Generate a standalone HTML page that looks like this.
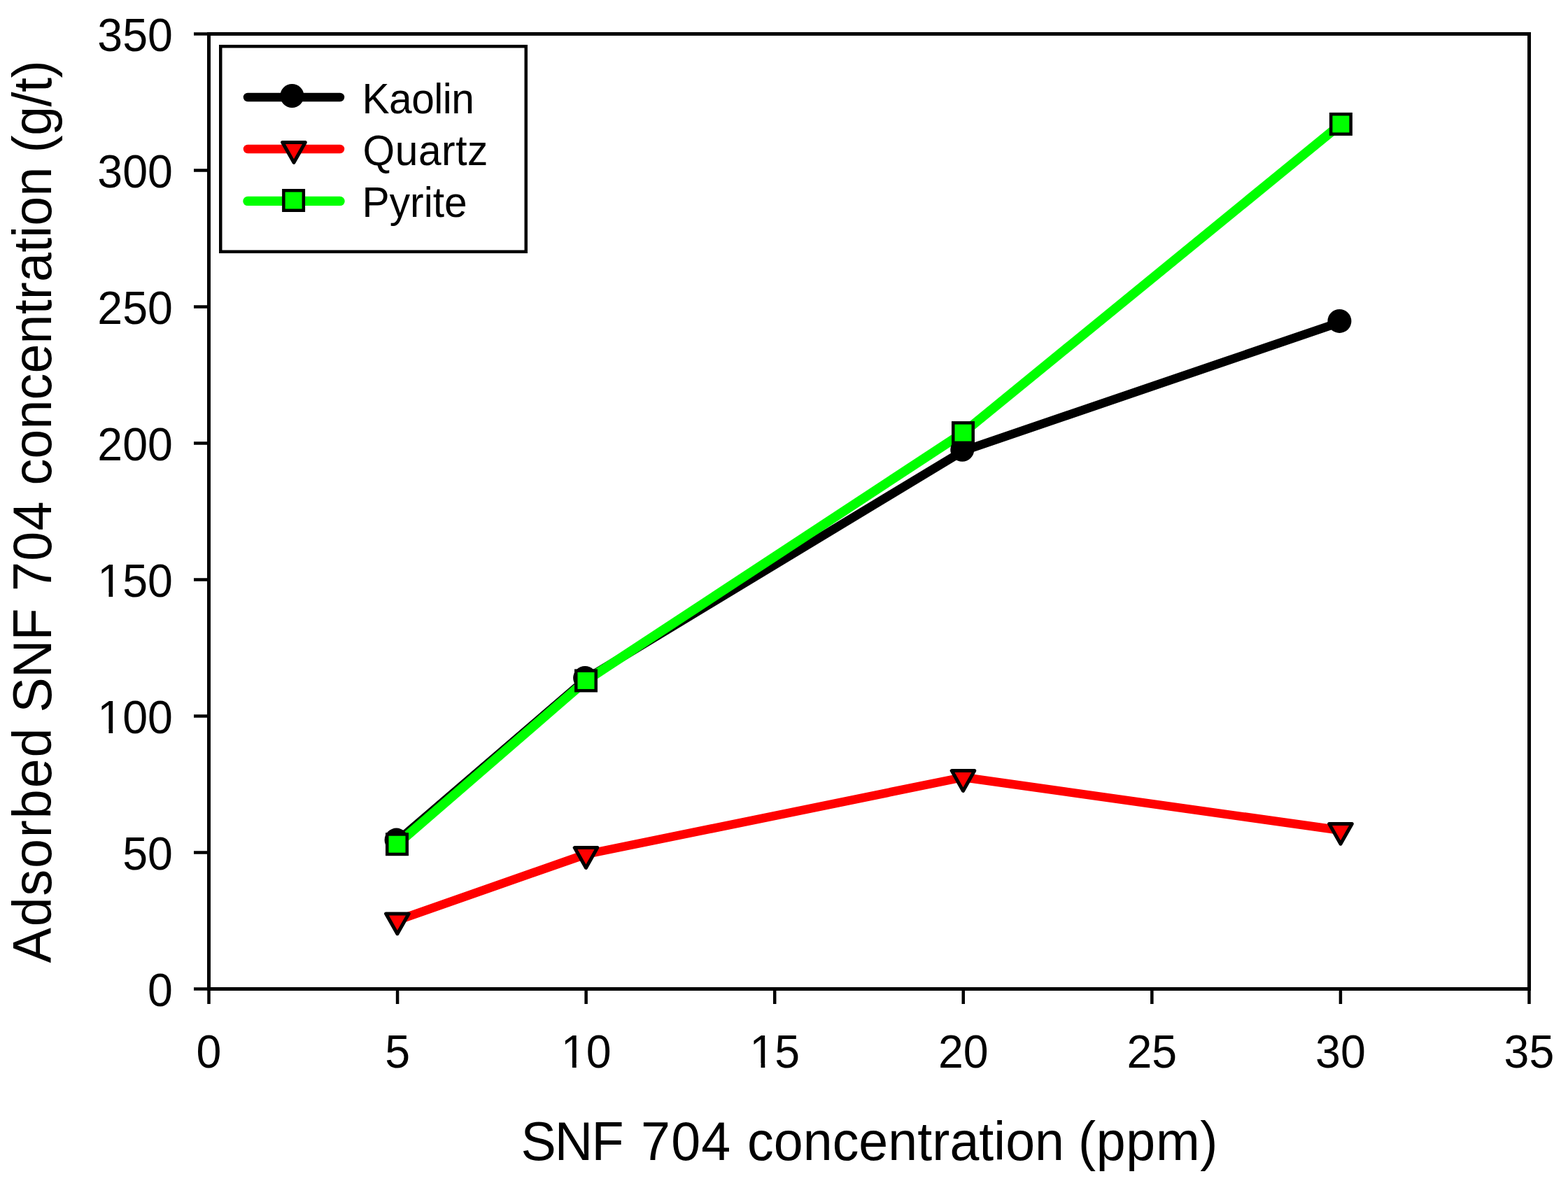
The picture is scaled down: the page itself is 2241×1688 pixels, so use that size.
<!DOCTYPE html>
<html><head><meta charset="utf-8"><title>Adsorbed SNF 704 concentration</title>
<style>html,body{margin:0;padding:0;background:#fff;}body{width:2241px;height:1688px;overflow:hidden;}svg{display:block;}text{font-family:"Liberation Sans", Arial, Helvetica, sans-serif;fill:#000;}</style>
</head><body>
<svg width="2241" height="1688" viewBox="0 0 2241 1688">
<rect x="0" y="0" width="2241" height="1688" fill="#fff"/>
<g stroke="#000" stroke-width="5" fill="none" stroke-linecap="butt">
<rect x="298.5" y="48.5" width="1887" height="1365" stroke-linejoin="miter"/>
<line x1="277" y1="1413.50" x2="298.5" y2="1413.50" stroke-width="4.5"/>
<line x1="277" y1="1218.50" x2="298.5" y2="1218.50" stroke-width="4.5"/>
<line x1="277" y1="1023.50" x2="298.5" y2="1023.50" stroke-width="4.5"/>
<line x1="277" y1="828.50" x2="298.5" y2="828.50" stroke-width="4.5"/>
<line x1="277" y1="633.50" x2="298.5" y2="633.50" stroke-width="4.5"/>
<line x1="277" y1="438.50" x2="298.5" y2="438.50" stroke-width="4.5"/>
<line x1="277" y1="243.50" x2="298.5" y2="243.50" stroke-width="4.5"/>
<line x1="277" y1="48.50" x2="298.5" y2="48.50" stroke-width="4.5"/>
<line x1="298.50" y1="1413.5" x2="298.50" y2="1435" stroke-width="4.5"/>
<line x1="568.07" y1="1413.5" x2="568.07" y2="1435" stroke-width="4.5"/>
<line x1="837.64" y1="1413.5" x2="837.64" y2="1435" stroke-width="4.5"/>
<line x1="1107.21" y1="1413.5" x2="1107.21" y2="1435" stroke-width="4.5"/>
<line x1="1376.78" y1="1413.5" x2="1376.78" y2="1435" stroke-width="4.5"/>
<line x1="1646.35" y1="1413.5" x2="1646.35" y2="1435" stroke-width="4.5"/>
<line x1="1915.92" y1="1413.5" x2="1915.92" y2="1435" stroke-width="4.5"/>
<line x1="2185.49" y1="1413.5" x2="2185.49" y2="1435" stroke-width="4.5"/>
</g>
<g font-size="64.5" text-anchor="end">
<text transform="translate(246.9,1437.70) scale(1,1.035)">0</text>
<text transform="translate(246.9,1242.70) scale(1,1.035)">50</text>
<g transform="translate(246.9,1047.70) scale(1,1.035)"><text>100</text><rect x="-104.31" y="-5.6" width="12.91" height="6.6" fill="#fff"/><rect x="-85.70" y="-5.6" width="12.41" height="6.6" fill="#fff"/></g>
<g transform="translate(246.9,852.70) scale(1,1.035)"><text>150</text><rect x="-104.31" y="-5.6" width="12.91" height="6.6" fill="#fff"/><rect x="-85.70" y="-5.6" width="12.41" height="6.6" fill="#fff"/></g>
<text transform="translate(246.9,657.70) scale(1,1.035)">200</text>
<text transform="translate(246.9,462.70) scale(1,1.035)">250</text>
<text transform="translate(246.9,267.70) scale(1,1.035)">300</text>
<text transform="translate(246.9,72.70) scale(1,1.035)">350</text>
</g>
<g font-size="64.5" text-anchor="middle">
<text transform="translate(298.50,1525.6) scale(1,1.035)">0</text>
<text transform="translate(568.07,1525.6) scale(1,1.035)">5</text>
<g transform="translate(837.64,1525.6) scale(1,1.035)"><text>10</text><rect x="-32.56" y="-5.6" width="12.91" height="6.6" fill="#fff"/><rect x="-13.95" y="-5.6" width="12.41" height="6.6" fill="#fff"/></g>
<g transform="translate(1107.21,1525.6) scale(1,1.035)"><text>15</text><rect x="-32.56" y="-5.6" width="12.91" height="6.6" fill="#fff"/><rect x="-13.95" y="-5.6" width="12.41" height="6.6" fill="#fff"/></g>
<text transform="translate(1376.78,1525.6) scale(1,1.035)">20</text>
<text transform="translate(1646.35,1525.6) scale(1,1.035)">25</text>
<text transform="translate(1915.92,1525.6) scale(1,1.035)">30</text>
<text transform="translate(2185.49,1525.6) scale(1,1.035)">35</text>
</g>
<text id="x_SNF" transform="translate(744.50,1657.70) scale(1,1.035)" font-size="75.4" textLength="146.98" lengthAdjust="spacing">SNF</text>
<text id="x_704" transform="translate(916.00,1657.70) scale(1,1.035)" font-size="75.4" textLength="128.20" lengthAdjust="spacing">704</text>
<text id="x_conc" transform="translate(1068.00,1657.70) scale(1,1.035)" font-size="75.4" textLength="453.04" lengthAdjust="spacing">concentration</text>
<text id="x_ppm" transform="translate(1541.00,1657.70) scale(1,1.035)" font-size="75.4" textLength="199.47" lengthAdjust="spacing">(ppm)</text>
<text id="y_Ads" transform="translate(72.80,1376.50) rotate(-90) scale(1,1.035)" font-size="75.4" textLength="335.93" lengthAdjust="spacing">Adsorbed</text>
<text id="y_SNF" transform="translate(72.80,1018.50) rotate(-90) scale(1,1.035)" font-size="75.4" textLength="148.98" lengthAdjust="spacing">SNF</text>
<text id="y_704" transform="translate(72.80,845.00) rotate(-90) scale(1,1.035)" font-size="75.4" textLength="128.40" lengthAdjust="spacing">704</text>
<text id="y_conc" transform="translate(72.80,693.50) rotate(-90) scale(1,1.035)" font-size="75.4" textLength="454.84" lengthAdjust="spacing">concentration</text>
<text id="y_gt" transform="translate(72.80,218.50) rotate(-90) scale(1,1.035)" font-size="75.4" textLength="132.24" lengthAdjust="spacing">(g/t)</text>
<polyline points="568.07,1202.10 837.64,970.40 1376.78,644.30 1915.92,460.40" fill="none" stroke="#000" stroke-width="12.5" stroke-linejoin="round" stroke-linecap="round"/>
<polyline points="567.90,1315.30 837.50,1221.00 1376.50,1111.00 1916.00,1186.80" fill="none" stroke="#f00" stroke-width="12.5" stroke-linejoin="round" stroke-linecap="round"/>
<polyline points="567.50,1206.70 837.50,972.90 1376.50,618.60 1916.40,177.40" fill="none" stroke="#0f0" stroke-width="13.4" stroke-linejoin="round" stroke-linecap="round"/>
<circle cx="566.57" cy="1200.60" r="17" fill="#000"/>
<circle cx="836.14" cy="968.90" r="17" fill="#000"/>
<circle cx="1375.28" cy="642.80" r="17" fill="#000"/>
<circle cx="1914.42" cy="458.90" r="17" fill="#000"/>
<path d="M551.60 1305.90L584.20 1305.90L567.90 1334.70Z" fill="#f00" stroke="#000" stroke-width="5" stroke-linejoin="round"/>
<path d="M821.20 1211.60L853.80 1211.60L837.50 1240.40Z" fill="#f00" stroke="#000" stroke-width="5" stroke-linejoin="round"/>
<path d="M1360.20 1101.60L1392.80 1101.60L1376.50 1130.40Z" fill="#f00" stroke="#000" stroke-width="5" stroke-linejoin="round"/>
<path d="M1899.70 1177.40L1932.30 1177.40L1916.00 1206.20Z" fill="#f00" stroke="#000" stroke-width="5" stroke-linejoin="round"/>
<rect x="553.25" y="1192.45" width="28.5" height="28.5" fill="#0f0" stroke="#000" stroke-width="4.5"/>
<rect x="823.25" y="958.65" width="28.5" height="28.5" fill="#0f0" stroke="#000" stroke-width="4.5"/>
<rect x="1362.25" y="604.35" width="28.5" height="28.5" fill="#0f0" stroke="#000" stroke-width="4.5"/>
<rect x="1902.15" y="163.15" width="28.5" height="28.5" fill="#0f0" stroke="#000" stroke-width="4.5"/>
<rect x="315.25" y="66.25" width="436.5" height="293.5" fill="#fff" stroke="#000" stroke-width="4.5"/>
<line x1="354" y1="139" x2="486" y2="139" stroke="#000" stroke-width="12.5" stroke-linecap="round"/>
<circle cx="417.4" cy="137" r="17" fill="#000"/>
<line x1="354" y1="213" x2="486" y2="213" stroke="#f00" stroke-width="12.5" stroke-linecap="round"/>
<path d="M403.70 203.50L436.30 203.50L420.00 232.30Z" fill="#f00" stroke="#000" stroke-width="5" stroke-linejoin="round"/>
<line x1="354" y1="287.4" x2="486" y2="287.4" stroke="#0f0" stroke-width="13.4" stroke-linecap="round"/>
<rect x="405.35" y="272.25" width="28.5" height="28.5" fill="#0f0" stroke="#000" stroke-width="4.5"/>
<text id="Kaolin" transform="translate(517.50,162.10) scale(1,1.035)" font-size="58.7" textLength="160.34" lengthAdjust="spacing">Kaolin</text>
<text id="Quartz" transform="translate(518.50,235.70) scale(1,1.035)" font-size="58.7" textLength="178.91" lengthAdjust="spacing">Quartz</text>
<text id="Pyrite" transform="translate(517.50,309.70) scale(1,1.035)" font-size="58.7" textLength="150.21" lengthAdjust="spacing">Pyrite</text>
</svg>
</body></html>
